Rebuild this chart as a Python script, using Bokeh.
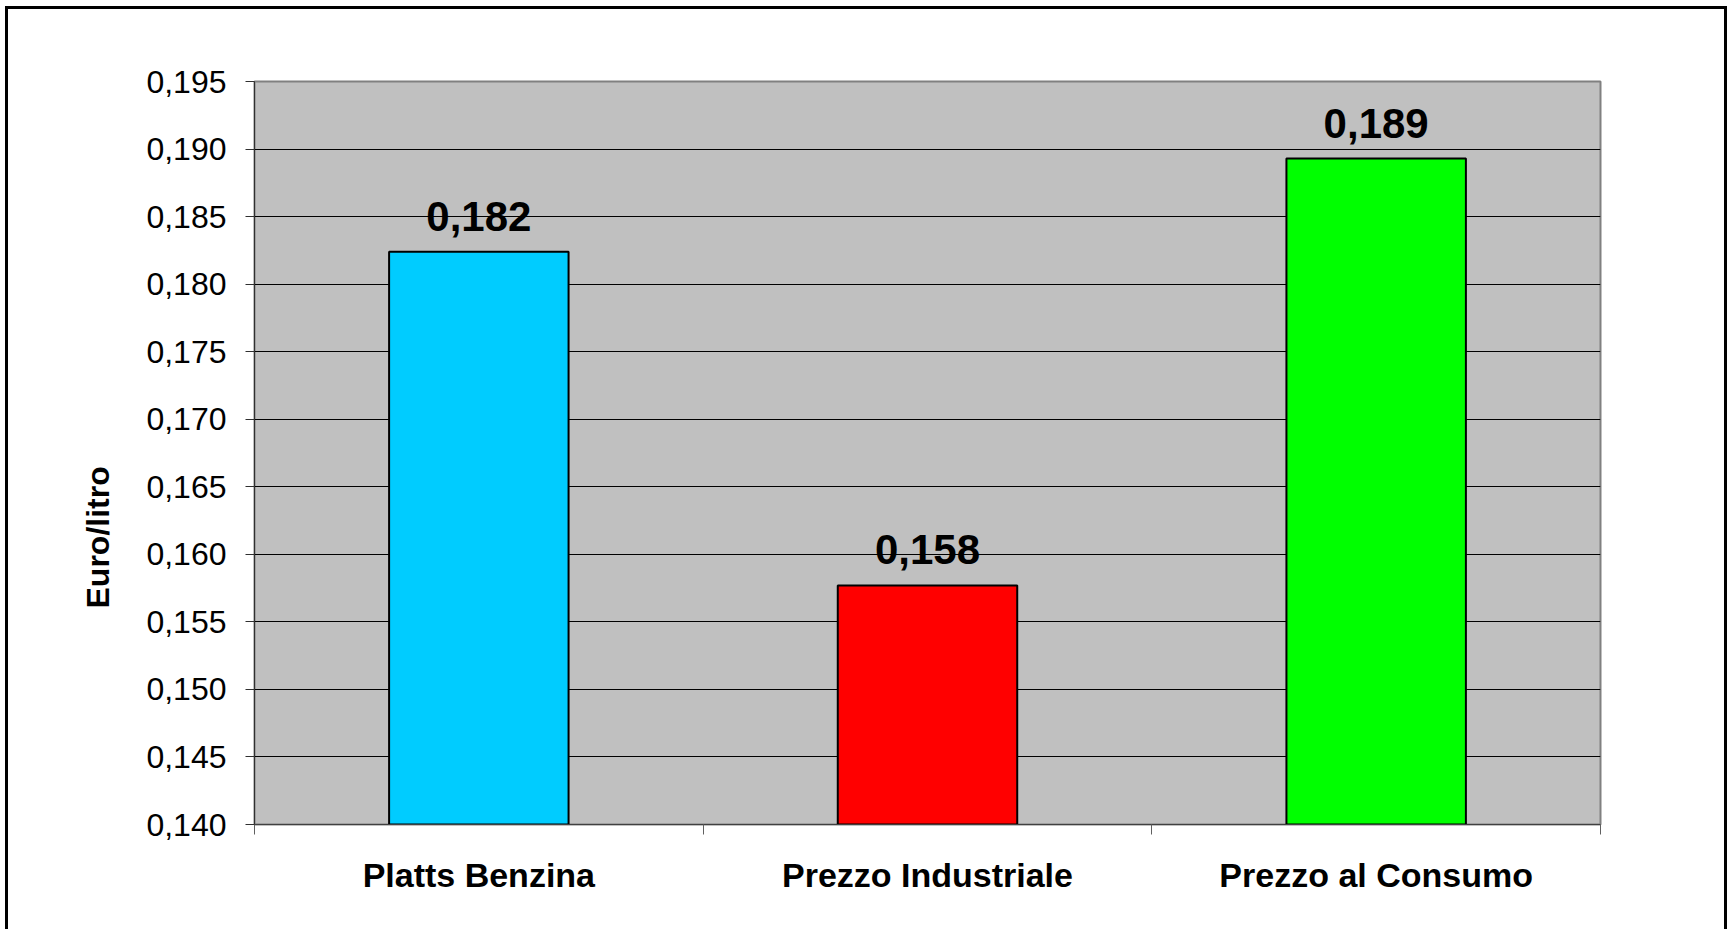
from bokeh.plotting import figure
from bokeh.models import (ColumnDataSource, FixedTicker, CustomJSTickFormatter,
                          LabelSet, Title, Range1d)
from bokeh.core.properties import value
from bokeh.embed import file_html
from bokeh.resources import INLINE

# ---- data ----
categories = ["Platts Benzina", "Prezzo Industriale", "Prezzo al Consumo"]
values = [0.1824, 0.1577, 0.1893]
bar_colors = ["#00CCFF", "#FF0000", "#00FF00"]
y_ticks = [0.140, 0.145, 0.150, 0.155, 0.160, 0.165, 0.170, 0.175, 0.180, 0.185, 0.190, 0.195]
y_title = "Euro/litro"

y_min, y_max = y_ticks[0], y_ticks[-1]
centers = [i + 0.5 for i in range(len(categories))]
boundaries = [float(i) for i in range(len(categories) + 1)]
value_labels = [f"{v:.3f}".replace(".", ",") for v in values]

src = ColumnDataSource(dict(x=centers, top=values, color=bar_colors, label=value_labels))

FONT = "Liberation Sans"

p = figure(width=1722, height=923,
           x_range=Range1d(0, len(categories)), y_range=Range1d(y_min, y_max),
           output_backend="svg", toolbar_location=None,
           min_border_left=246, min_border_right=130,
           min_border_top=72, min_border_bottom=108)
p.styles = {"border-top": "3px solid black", "border-left": "3px solid black",
            "border-right": "3px solid black", "margin-left": "5px", "margin-top": "6px"}

p.background_fill_color = "#C0C0C0"
p.border_fill_color = "white"
p.outline_line_color = "#808080"
p.outline_line_width = 2

p.vbar(x="x", top="top", bottom=y_min, width=0.4, fill_color="color",
       line_color="black", line_width=2, source=src)

# grid
p.xgrid.visible = False
p.ygrid.ticker = FixedTicker(ticks=y_ticks)
p.ygrid.grid_line_color = "black"
p.ygrid.grid_line_width = 1

# y axis
ya = p.yaxis[0]
ya.ticker = FixedTicker(ticks=y_ticks)
ya.formatter = CustomJSTickFormatter(code="return tick.toFixed(3).replace('.', ',');")
ya.major_label_text_font = FONT
ya.major_label_text_font_size = "32px"
ya.major_label_text_color = "black"
ya.major_tick_out = 9
ya.major_tick_in = 0
ya.minor_tick_out = 0
ya.minor_tick_in = 0
ya.major_label_standoff = 19
ya.axis_line_color = "#303030"
ya.major_tick_line_color = "#303030"

# x axis
xa = p.xaxis[0]
xa.ticker = FixedTicker(ticks=centers, minor_ticks=boundaries)
xa.formatter = CustomJSTickFormatter(args=dict(labels=categories),
                                     code="return labels[Math.floor(tick)];")
xa.major_label_text_font = FONT
xa.major_label_text_font_size = "34px"
xa.major_label_text_font_style = "bold"
xa.major_label_text_color = "black"
xa.major_tick_out = 0
xa.major_tick_in = 0
xa.major_tick_line_color = None
xa.minor_tick_out = 10
xa.minor_tick_in = 0
xa.minor_tick_line_color = "#606060"
xa.major_label_standoff = 21
xa.axis_line_color = "#404040"

# value labels
labels = LabelSet(x="x", y="top", text="label", source=src, y_offset=21,
                  text_align="center", text_baseline="alphabetic",
                  text_font=value(FONT), text_font_size=value("42px"),
                  text_font_style=value("bold"), text_color=value("black"))
p.add_layout(labels)

# y axis title as a side title (offset shifts it along the frame)
p.add_layout(Title(text=y_title, align="left", offset=216, vertical_align="middle",
                   standoff=54, text_font=FONT, text_font_size="32px",
                   text_font_style="bold", text_color="black"), "left")

open("out.html", "w").write(file_html(p, INLINE, title="Chart"))
